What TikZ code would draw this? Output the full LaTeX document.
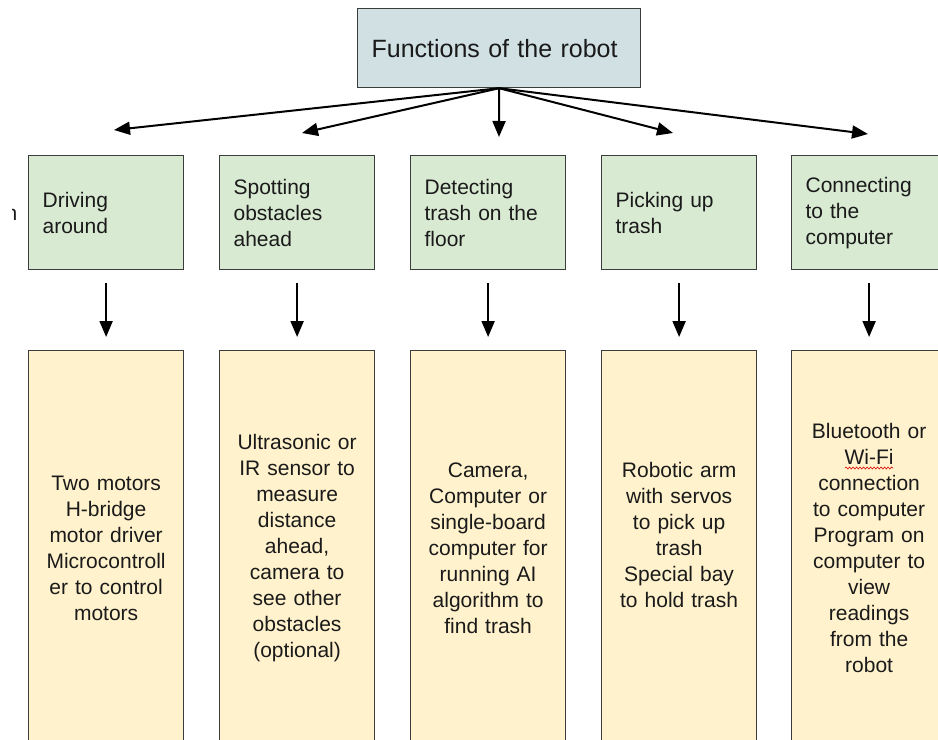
\documentclass[tikz,border=0pt]{standalone}
\usepackage{fontspec}
\setmainfont{Liberation Sans}
\usetikzlibrary{arrows.meta,decorations.pathmorphing}

\definecolor{headfill}{HTML}{D0E0E3}
\definecolor{funcfill}{HTML}{D9EAD3}
\definecolor{partfill}{HTML}{FFF2CC}
\definecolor{edgegray}{HTML}{3C3C3C}
\definecolor{inkcol}{HTML}{1A1A1A}

\tikzset{
  box/.style={draw=edgegray, line width=1.2bp, inner sep=0pt, text=inkcol,
    font=\fontsize{21bp}{26bp}\selectfont},
  headbox/.style={box, fill=headfill, anchor=north west, minimum width=283bp,
    minimum height=79bp, align=left, text width=255bp, inner xsep=14bp,
    font=\fontsize{25bp}{30bp}\selectfont},
  funcbox/.style={box, fill=funcfill, anchor=north west, minimum width=155bp,
    minimum height=114bp, align=left, text width=127bp, inner xsep=14bp},
  partbox/.style={box, fill=partfill, anchor=north west, minimum width=155bp,
    minimum height=395bp, align=center, text width=141bp, inner xsep=7bp},
  arr/.style={line width=2bp, -{Triangle[length=16bp,width=13bp]}},
}

\begin{document}
\begin{tikzpicture}[x=1bp, y=-1bp]
  \useasboundingbox (0,0) rectangle (938,740);
  \clip (0,0) rectangle (938,740);

  % fragment of a character at the left edge
  \begin{scope}
    \clip (12,195) rectangle (20,230);
    \node[anchor=base east, inner sep=0pt, text=inkcol,
      font=\fontsize{21bp}{26bp}\selectfont] (frag) at (17.5,220) {n};
  \end{scope}

  % title
  \node[headbox] (top) at (357,8) {Functions of the robot};

  % functions
  \node[funcbox] (f1) at (28,155)  {Driving\\around};
  \node[funcbox] (f2) at (219,155) {Spotting\\obstacles\\ahead};
  \node[funcbox] (f3) at (410,155) {Detecting\\trash on the\\floor};
  \node[funcbox] (f4) at (601,155) {Picking up\\trash};
  \node[funcbox] (f5) at (791,155) {Connecting\\to the\\computer};

  % hardware for each function
  \node[partbox] (p1) at (28,350)  {Two motors\\H-bridge\\motor driver\\Microcontroll\\er to control\\motors};
  \node[partbox] (p2) at (219,350) {Ultrasonic or\\IR sensor to\\measure\\distance\\ahead,\\camera to\\see other\\obstacles\\(optional)};
  \node[partbox] (p3) at (410,350) {Camera,\\Computer or\\single-board\\computer for\\running AI\\algorithm to\\find trash};
  \node[partbox] (p4) at (601,350) {Robotic arm\\with servos\\to pick up\\trash\\Special bay\\to hold trash\\\mbox{}};
  \node[partbox] (p5) at (791,350) {Bluetooth or\\Wi-Fi\\connection\\to computer\\Program on\\computer to\\view\\readings\\from the\\robot};

  % spell-check underline under Wi-Fi
  \draw[red!85!black, line width=0.6bp, decorate,
    decoration={snake, amplitude=1bp, segment length=3.5bp}]
    (845,468) -- (893,468);

  % fan-out arrow ends
  \coordinate (t1) at (114,130);
  \coordinate (t2) at (302,133);
  \coordinate (t3) at (499,137);
  \coordinate (t4) at (673,133);
  \coordinate (t5) at (868,134);
  \foreach \i in {1,...,5}
    \draw[arr] (top.south) -- (t\i);

  % function to hardware arrows
  \foreach \i in {1,...,5}
    \draw[arr, shorten <=13bp, shorten >=13bp] (f\i.south) -- (p\i.north);
\end{tikzpicture}
\end{document}
